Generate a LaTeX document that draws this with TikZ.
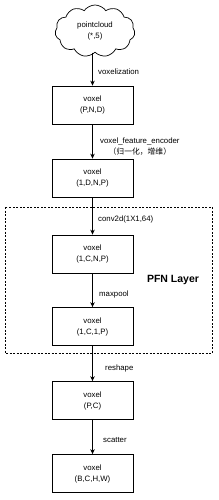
\documentclass[tikz,border=0pt]{standalone}
\usepackage{fontspec}
\setmainfont{Liberation Sans}
\newfontfamily\cjk{Noto Sans CJK SC}
\usetikzlibrary{shapes.symbols,arrows.meta}
\begin{document}
\begin{tikzpicture}[x=1pt,y=-1pt,
  every node/.style={font=\fontsize{7.8}{11}\selectfont},
  vbox/.style={draw,line width=0.7pt,minimum width=81pt,minimum height=38pt,align=center,inner sep=1pt},
  conn/.style={draw,line width=0.7pt,-{Stealth[length=5pt,width=4.5pt]}},
  lbl/.style={anchor=west,align=center,inner sep=0pt}]
\useasboundingbox (0,0) rectangle (219,500);
\node[cloud,draw,line width=0.7pt,cloud puffs=11,cloud puff arc=110,aspect=1.6,minimum width=80pt,minimum height=52pt,align=center,inner sep=0pt] (pc) at (95,31) {pointcloud\\(*,5)};
\node[vbox] (b1) at (92.5,105) {voxel\\(P,N,D)};
\node[vbox] (b2) at (92.5,178) {voxel\\(1,D,N,P)};
\node[vbox] (b3) at (92.5,254) {voxel\\(1,C,N,P)};
\node[vbox] (b4) at (92.5,326.5) {voxel\\(1,C,1,P)};
\node[vbox] (b5) at (92.5,400.5) {voxel\\(P,C)};
\node[vbox] (b6) at (92.5,473.5) {voxel\\(B,C,H,W)};
\draw[dashed,line width=0.6pt,dash pattern=on 2pt off 1.5pt] (5,207) rectangle (212,353);
\node[font=\bfseries\fontsize{10.5}{12}\selectfont] (pfn) at (173,280) {PFN Layer};
\draw[conn] (pc.south -| b1.north) -- (b1.north);
\draw[conn] (b1) -- (b2);
\draw[conn] (b2) -- (b3);
\draw[conn] (b3) -- (b4);
\draw[conn] (b4) -- (b5);
\draw[conn] (b5) -- (b6);
\node[lbl] (l1) at (98,72) {voxelization};
\node[lbl] (l2) at (100,147) {voxel\_feature\_encoder\\{\cjk （归一化，增维）}};
\node[lbl] (l3) at (98,219) {conv2d(1X1,64)};
\node[lbl] (l4) at (99,294) {maxpool};
\node[lbl] (l5) at (105,368) {reshape};
\node[lbl] (l6) at (103,440) {scatter};
\end{tikzpicture}
\end{document}
